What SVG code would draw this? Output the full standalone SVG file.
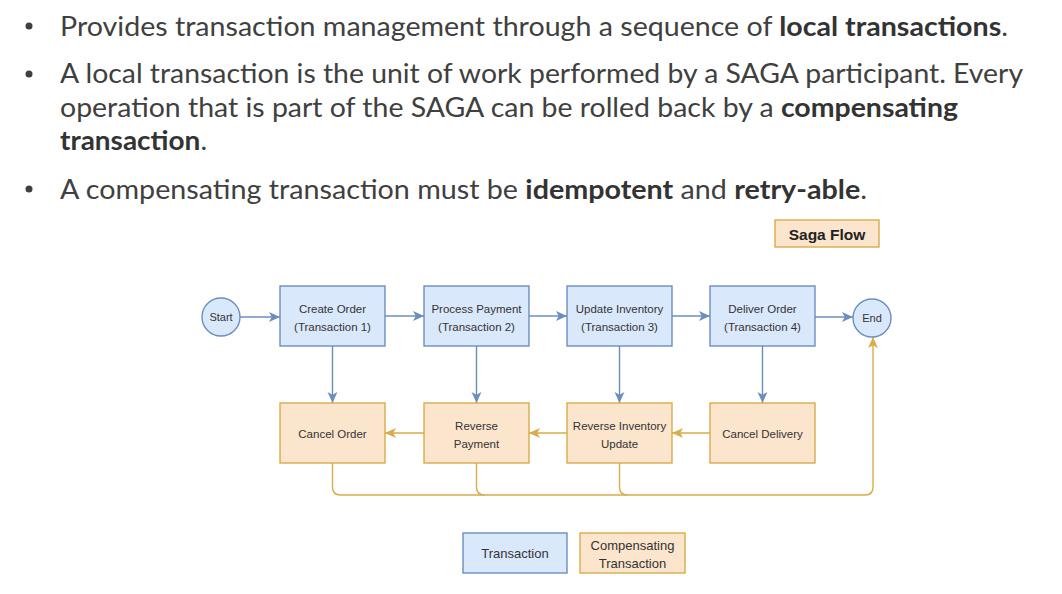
<svg xmlns="http://www.w3.org/2000/svg" width="1062" height="594" viewBox="0 0 1062 594">
<style>
.b{font-family:Lato,"Open Sans","Liberation Sans",sans-serif;font-size:27px;fill:#404040}
.bb{font-weight:bold;fill:#333}
.t{font-family:"Liberation Sans",Arial,sans-serif;font-size:11.5px;fill:#333;text-anchor:middle}
.s{font-size:11px}
.l{font-size:13px}
.tr{fill:#dae8fc;stroke:#6c8ebf;stroke-width:1.4}
.cp{fill:#fce5cd;stroke:#d9ac4a;stroke-width:1.4}
.cb{fill:none;stroke:#6c8ebf;stroke-width:1.4}
.co{fill:none;stroke:#d9ac4a;stroke-width:1.4}
</style>
<defs>
<marker id="ab" viewBox="0 0 10 10" refX="10" refY="5" markerWidth="11" markerHeight="11" markerUnits="userSpaceOnUse" orient="auto"><path d="M0,0.5 L10,5 L0,9.5 L2.5,5 z" fill="#6c8ebf"/></marker>
<marker id="ao" viewBox="0 0 10 10" refX="10" refY="5" markerWidth="11" markerHeight="11" markerUnits="userSpaceOnUse" orient="auto"><path d="M0,0.5 L10,5 L0,9.5 L2.5,5 z" fill="#d9ac4a"/></marker>
</defs>
<rect width="1062" height="594" fill="#fff"/>
<g id="bullets">
<circle cx="29" cy="26" r="3.5" fill="#404040"/>
<circle cx="29" cy="74" r="3.5" fill="#404040"/>
<circle cx="29" cy="189" r="3.5" fill="#404040"/>
<text class="b" x="60" y="36" textLength="948" lengthAdjust="spacingAndGlyphs">Provides transaction management through a sequence of <tspan class="bb">local transactions</tspan>.</text>
<text class="b" x="60" y="83" textLength="963" lengthAdjust="spacingAndGlyphs">A local transaction is the unit of work performed by a SAGA participant. Every</text>
<text class="b" x="60" y="117" textLength="898" lengthAdjust="spacingAndGlyphs">operation that is part of the SAGA can be rolled back by a <tspan class="bb">compensating</tspan></text>
<text class="b" x="60" y="150" textLength="147" lengthAdjust="spacingAndGlyphs"><tspan class="bb">transaction</tspan>.</text>
<text class="b" x="60" y="199" textLength="807" lengthAdjust="spacingAndGlyphs">A compensating transaction must be <tspan class="bb">idempotent</tspan> and <tspan class="bb">retry-able</tspan>.</text>
</g>
<g id="saga-flow">
<rect class="cp" x="775" y="220" width="104" height="27"/>
<text x="827" y="239.5" font-family="Liberation Sans,Arial,sans-serif" font-size="15.5" font-weight="bold" fill="#222" text-anchor="middle">Saga Flow</text>
</g>
<g id="connectors">
<path class="cb" d="M240,317 H280" marker-end="url(#ab)"/>
<path class="cb" d="M385,316 H424" marker-end="url(#ab)"/>
<path class="cb" d="M529,316 H567" marker-end="url(#ab)"/>
<path class="cb" d="M672,316 H710" marker-end="url(#ab)"/>
<path class="cb" d="M815,317 H853" marker-end="url(#ab)"/>
<path class="cb" d="M332.5,346 V403" marker-end="url(#ab)"/>
<path class="cb" d="M476.5,346 V403" marker-end="url(#ab)"/>
<path class="cb" d="M619.5,346 V403" marker-end="url(#ab)"/>
<path class="cb" d="M762.5,346 V403" marker-end="url(#ab)"/>
<path class="co" d="M710,433 H672" marker-end="url(#ao)"/>
<path class="co" d="M567,433 H529" marker-end="url(#ao)"/>
<path class="co" d="M424,433 H385" marker-end="url(#ao)"/>
<path class="co" d="M332.5,463 V487 Q332.5,495 340.5,495 H865 Q873,495 873,487 V337" marker-end="url(#ao)"/>
<path class="co" d="M476.5,463 V487 Q476.5,495 484.5,495"/>
<path class="co" d="M619.5,463 V487 Q619.5,495 627.5,495"/>
</g>
<g id="start"><circle class="tr" cx="221" cy="317" r="19"/><text class="t s" x="221" y="321">Start</text></g>
<g id="end"><circle class="tr" cx="872" cy="318" r="19"/><text class="t s" x="872" y="322">End</text></g>
<g id="create-order"><rect class="tr" x="280" y="286" width="105" height="60"/><text class="t" x="332.5" y="313">Create Order</text><text class="t" x="332.5" y="331">(Transaction 1)</text></g>
<g id="process-payment"><rect class="tr" x="424" y="286" width="105" height="60"/><text class="t" x="476.5" y="313">Process Payment</text><text class="t" x="476.5" y="331">(Transaction 2)</text></g>
<g id="update-inventory"><rect class="tr" x="567" y="286" width="105" height="60"/><text class="t" x="619.5" y="313">Update Inventory</text><text class="t" x="619.5" y="331">(Transaction 3)</text></g>
<g id="deliver-order"><rect class="tr" x="710" y="286" width="105" height="60"/><text class="t" x="762.5" y="313">Deliver Order</text><text class="t" x="762.5" y="331">(Transaction 4)</text></g>
<g id="cancel-order"><rect class="cp" x="280" y="403" width="105" height="60"/><text class="t" x="332.5" y="438">Cancel Order</text></g>
<g id="reverse-payment"><rect class="cp" x="424" y="403" width="105" height="60"/><text class="t" x="476.5" y="430">Reverse</text><text class="t" x="476.5" y="448">Payment</text></g>
<g id="reverse-inventory"><rect class="cp" x="567" y="403" width="105" height="60"/><text class="t" x="619.5" y="430">Reverse Inventory</text><text class="t" x="619.5" y="448">Update</text></g>
<g id="cancel-delivery"><rect class="cp" x="710" y="403" width="105" height="60"/><text class="t" x="762.5" y="438">Cancel Delivery</text></g>
<g id="legend-transaction"><rect class="tr" x="463" y="533" width="104" height="40"/><text class="t l" x="515" y="558">Transaction</text></g>
<g id="legend-compensating"><rect class="cp" x="580" y="533" width="105" height="40"/><text class="t l" x="632.5" y="550">Compensating</text><text class="t l" x="632.5" y="568">Transaction</text></g>
</svg>
